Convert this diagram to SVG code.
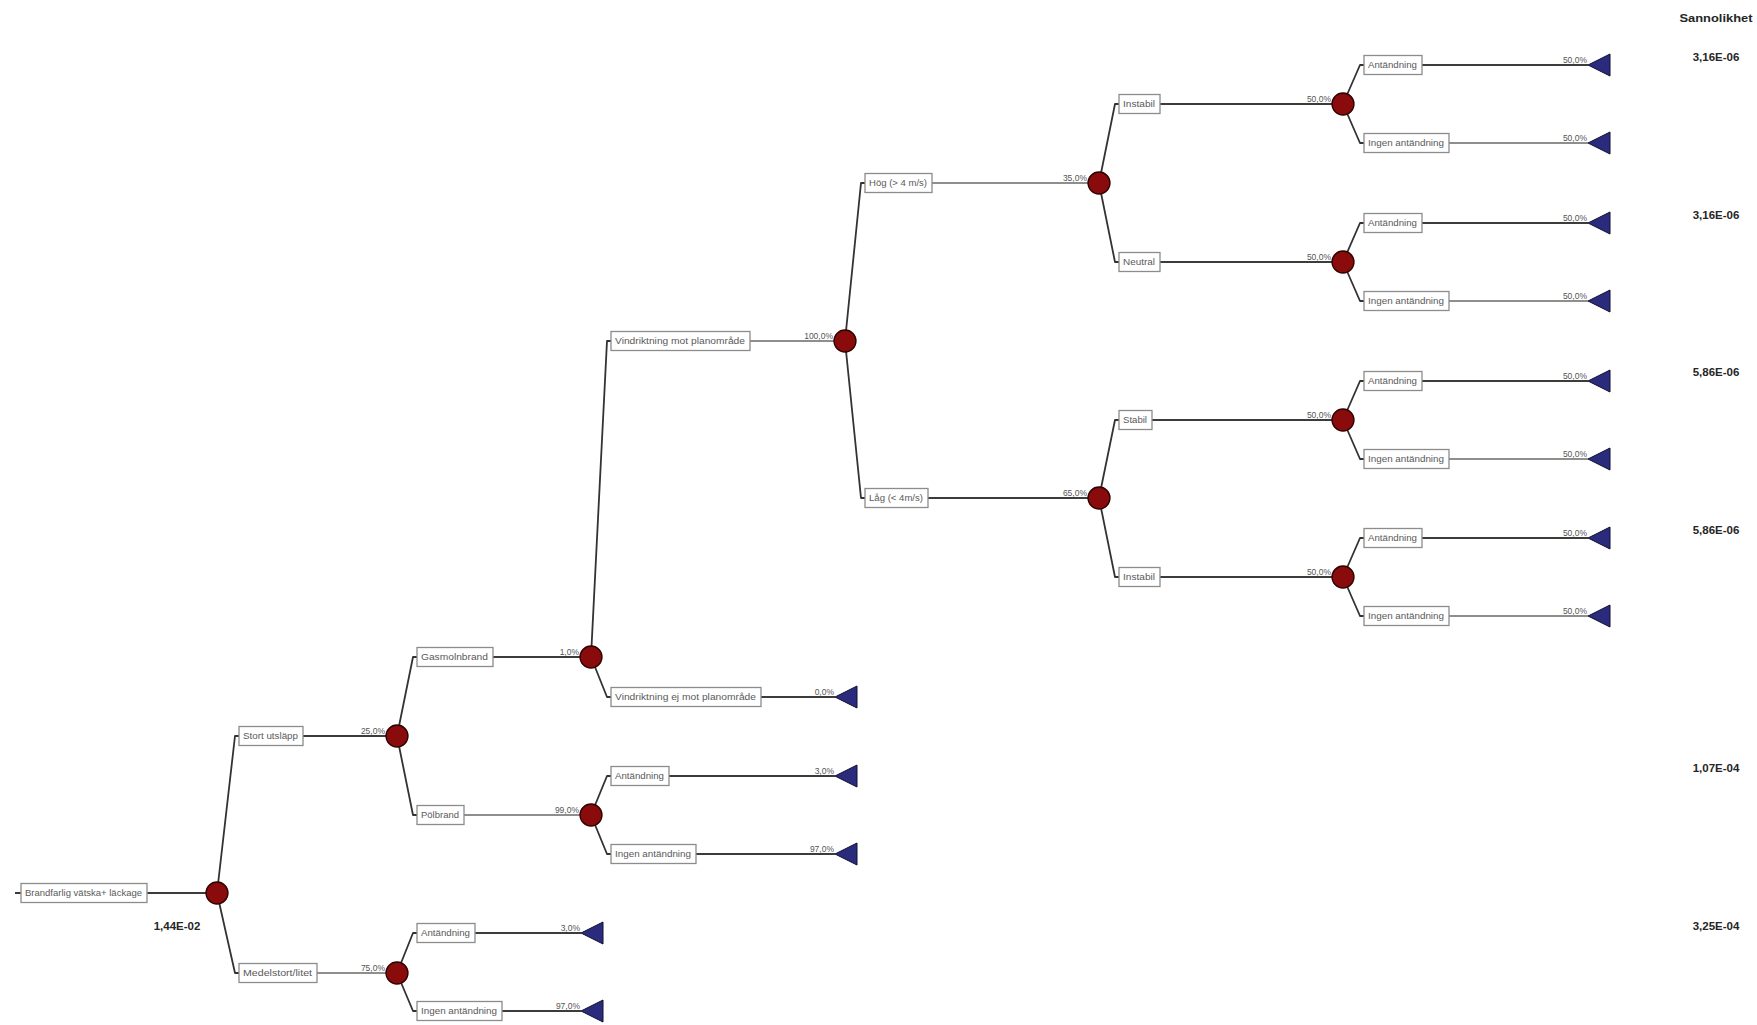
<svg xmlns="http://www.w3.org/2000/svg" xmlns:xlink="http://www.w3.org/1999/xlink" width="1757" height="1025" viewBox="0 0 1757 1025">
<style>
  .bg { fill: #ffffff; }
  .box rect { fill: #ffffff; stroke: #8c8c8c; stroke-width: 1.3; }
  .box text { font-family: "Liberation Sans", Arial, sans-serif; font-size: 9px; fill: #5a5a5a; }
  .diag { fill: none; stroke: #333333; stroke-width: 1.8; stroke-linejoin: round; }
  .hd { fill: none; stroke: #3c3c3c; stroke-width: 2; }
  .hl { fill: none; stroke: #8e8e8e; stroke-width: 2; }
  .pct { font-family: "Liberation Sans", Arial, sans-serif; font-size: 8.5px; fill: #555555; text-anchor: end; }
  .chance { fill: #8a0b0b; stroke: #2e0000; stroke-width: 1.3; }
  .term { fill: #2b2b7e; stroke: #101030; stroke-width: 1; }
  .prob { font-family: "Liberation Sans", Arial, sans-serif; font-size: 11.5px; font-weight: bold; fill: #262626; text-anchor: middle; }
</style>
<defs>
  <polygon id="tri" class="term" points="0,0 22,-11 22,11"/>
</defs>
<rect class="bg" x="0" y="0" width="1757" height="1025"/>

<g id="connectors">
  <!-- root -->
  <path class="hd" d="M15 893 H21"/>
  <path class="hd" d="M147 893 H217"/>
  <path class="diag" d="M217 893 L235 736 H239"/>
  <path class="diag" d="M217 893 L235 973 H239"/>
  <path class="hd" d="M303 736 H397"/>
  <path class="hl" d="M317 973 H397"/>
  <path class="diag" d="M397 736 L413 657 H417"/>
  <path class="diag" d="M397 736 L413 815 H417"/>
  <path class="diag" d="M397 973 L413 933 H417"/>
  <path class="diag" d="M397 973 L413 1011 H417"/>
  <path class="hd" d="M493 657 H591"/>
  <path class="hl" d="M464 815 H591"/>
  <path class="hd" d="M475 933 H581"/>
  <path class="hd" d="M502 1011 H581"/>
  <path class="diag" d="M591 657 L607 341 H611"/>
  <path class="diag" d="M591 657 L607 697 H611"/>
  <path class="diag" d="M591 815 L607 776 H611"/>
  <path class="diag" d="M591 815 L607 854 H611"/>
  <path class="hl" d="M750 341 H845"/>
  <path class="hd" d="M761 697 H835"/>
  <path class="hd" d="M669 776 H835"/>
  <path class="hd" d="M696 854 H835"/>
  <path class="diag" d="M845 341 L861 183 H865"/>
  <path class="diag" d="M845 341 L861 498 H865"/>
  <path class="hl" d="M932 183 H1099"/>
  <path class="hd" d="M928 498 H1099"/>
  <path class="diag" d="M1099 183 L1115 104 H1119"/>
  <path class="diag" d="M1099 183 L1115 262 H1119"/>
  <path class="diag" d="M1099 498 L1115 420 H1119"/>
  <path class="diag" d="M1099 498 L1115 577 H1119"/>
  <path class="hd" d="M1160 104 H1343"/>
  <path class="hd" d="M1160 262 H1343"/>
  <path class="hd" d="M1152 420 H1343"/>
  <path class="hd" d="M1160 577 H1343"/>
  <path class="diag" d="M1343 104 L1360 65 H1364"/>
  <path class="diag" d="M1343 104 L1360 143 H1364"/>
  <path class="diag" d="M1343 262 L1360 223 H1364"/>
  <path class="diag" d="M1343 262 L1360 301 H1364"/>
  <path class="diag" d="M1343 420 L1360 381 H1364"/>
  <path class="diag" d="M1343 420 L1360 459 H1364"/>
  <path class="diag" d="M1343 577 L1360 538 H1364"/>
  <path class="diag" d="M1343 577 L1360 616 H1364"/>
  <path class="hd" d="M1422 65 H1588"/>
  <path class="hl" d="M1449 143 H1588"/>
  <path class="hd" d="M1422 223 H1588"/>
  <path class="hl" d="M1449 301 H1588"/>
  <path class="hd" d="M1422 381 H1588"/>
  <path class="hl" d="M1449 459 H1588"/>
  <path class="hd" d="M1422 538 H1588"/>
  <path class="hl" d="M1449 616 H1588"/>

  <g id="branch-probabilities">
    <text class="pct" x="385" y="734">25,0%</text>
    <text class="pct" x="385" y="971">75,0%</text>
    <text class="pct" x="579" y="655">1,0%</text>
    <text class="pct" x="579" y="813">99,0%</text>
    <text class="pct" x="580" y="931">3,0%</text>
    <text class="pct" x="580" y="1009">97,0%</text>
    <text class="pct" x="833" y="339">100,0%</text>
    <text class="pct" x="834" y="695">0,0%</text>
    <text class="pct" x="834" y="774">3,0%</text>
    <text class="pct" x="834" y="852">97,0%</text>
    <text class="pct" x="1087" y="181">35,0%</text>
    <text class="pct" x="1087" y="496">65,0%</text>
    <text class="pct" x="1331" y="102">50,0%</text>
    <text class="pct" x="1331" y="260">50,0%</text>
    <text class="pct" x="1331" y="418">50,0%</text>
    <text class="pct" x="1331" y="575">50,0%</text>
    <text class="pct" x="1587" y="63">50,0%</text>
    <text class="pct" x="1587" y="141">50,0%</text>
    <text class="pct" x="1587" y="221">50,0%</text>
    <text class="pct" x="1587" y="299">50,0%</text>
    <text class="pct" x="1587" y="379">50,0%</text>
    <text class="pct" x="1587" y="457">50,0%</text>
    <text class="pct" x="1587" y="536">50,0%</text>
    <text class="pct" x="1587" y="614">50,0%</text>
  </g>
</g>

<!-- event boxes -->
<g id="root-event" class="box"><rect x="21" y="883.5" width="126" height="19"/><text x="25" y="896" textLength="117" lengthAdjust="spacingAndGlyphs">Brandfarlig vätska+ läckage</text></g>
<g id="b-stort" class="box"><rect x="239" y="726.5" width="64" height="19"/><text x="243" y="739" textLength="55" lengthAdjust="spacingAndGlyphs">Stort utsläpp</text></g>
<g id="b-medel" class="box"><rect x="239" y="963.5" width="78" height="19"/><text x="243" y="976" textLength="69" lengthAdjust="spacingAndGlyphs">Medelstort/litet</text></g>
<g id="b-gas" class="box"><rect x="417" y="647.5" width="76" height="19"/><text x="421" y="660" textLength="67" lengthAdjust="spacingAndGlyphs">Gasmolnbrand</text></g>
<g id="b-pol" class="box"><rect x="417" y="805.5" width="47" height="19"/><text x="421" y="818" textLength="38" lengthAdjust="spacingAndGlyphs">Pölbrand</text></g>
<g id="b-medel-ant" class="box"><rect x="417" y="923.5" width="58" height="19"/><text x="421" y="936" textLength="49" lengthAdjust="spacingAndGlyphs">Antändning</text></g>
<g id="b-medel-ingen" class="box"><rect x="417" y="1001.5" width="85" height="19"/><text x="421" y="1014" textLength="76" lengthAdjust="spacingAndGlyphs">Ingen antändning</text></g>
<g id="b-vmot" class="box"><rect x="611" y="331.5" width="139" height="19"/><text x="615" y="344" textLength="130" lengthAdjust="spacingAndGlyphs">Vindriktning mot planområde</text></g>
<g id="b-vej" class="box"><rect x="611" y="687.5" width="150" height="19"/><text x="615" y="700" textLength="141" lengthAdjust="spacingAndGlyphs">Vindriktning ej mot planområde</text></g>
<g id="b-pol-ant" class="box"><rect x="611" y="766.5" width="58" height="19"/><text x="615" y="779" textLength="49" lengthAdjust="spacingAndGlyphs">Antändning</text></g>
<g id="b-pol-ingen" class="box"><rect x="611" y="844.5" width="85" height="19"/><text x="615" y="857" textLength="76" lengthAdjust="spacingAndGlyphs">Ingen antändning</text></g>
<g id="b-hog" class="box"><rect x="865" y="173.5" width="67" height="19"/><text x="869" y="186" textLength="58" lengthAdjust="spacingAndGlyphs">Hög (&gt; 4 m/s)</text></g>
<g id="b-lag" class="box"><rect x="865" y="488.5" width="63" height="19"/><text x="869" y="501" textLength="54" lengthAdjust="spacingAndGlyphs">Låg (&lt; 4m/s)</text></g>
<g id="b-instabil-1" class="box"><rect x="1119" y="94.5" width="41" height="19"/><text x="1123" y="107" textLength="32" lengthAdjust="spacingAndGlyphs">Instabil</text></g>
<g id="b-neutral" class="box"><rect x="1119" y="252.5" width="41" height="19"/><text x="1123" y="265" textLength="32" lengthAdjust="spacingAndGlyphs">Neutral</text></g>
<g id="b-stabil" class="box"><rect x="1119" y="410.5" width="33" height="19"/><text x="1123" y="423" textLength="24" lengthAdjust="spacingAndGlyphs">Stabil</text></g>
<g id="b-instabil-2" class="box"><rect x="1119" y="567.5" width="41" height="19"/><text x="1123" y="580" textLength="32" lengthAdjust="spacingAndGlyphs">Instabil</text></g>
<g id="b-leaf-1a" class="box"><rect x="1364" y="55.5" width="58" height="19"/><text x="1368" y="68" textLength="49" lengthAdjust="spacingAndGlyphs">Antändning</text></g>
<g id="b-leaf-1i" class="box"><rect x="1364" y="133.5" width="85" height="19"/><text x="1368" y="146" textLength="76" lengthAdjust="spacingAndGlyphs">Ingen antändning</text></g>
<g id="b-leaf-2a" class="box"><rect x="1364" y="213.5" width="58" height="19"/><text x="1368" y="226" textLength="49" lengthAdjust="spacingAndGlyphs">Antändning</text></g>
<g id="b-leaf-2i" class="box"><rect x="1364" y="291.5" width="85" height="19"/><text x="1368" y="304" textLength="76" lengthAdjust="spacingAndGlyphs">Ingen antändning</text></g>
<g id="b-leaf-3a" class="box"><rect x="1364" y="371.5" width="58" height="19"/><text x="1368" y="384" textLength="49" lengthAdjust="spacingAndGlyphs">Antändning</text></g>
<g id="b-leaf-3i" class="box"><rect x="1364" y="449.5" width="85" height="19"/><text x="1368" y="462" textLength="76" lengthAdjust="spacingAndGlyphs">Ingen antändning</text></g>
<g id="b-leaf-4a" class="box"><rect x="1364" y="528.5" width="58" height="19"/><text x="1368" y="541" textLength="49" lengthAdjust="spacingAndGlyphs">Antändning</text></g>
<g id="b-leaf-4i" class="box"><rect x="1364" y="606.5" width="85" height="19"/><text x="1368" y="619" textLength="76" lengthAdjust="spacingAndGlyphs">Ingen antändning</text></g>

<!-- chance nodes -->
<g id="n1"><circle class="chance" cx="217" cy="893" r="11"/></g>
<g id="n2"><circle class="chance" cx="397" cy="736" r="11"/></g>
<g id="n3"><circle class="chance" cx="397" cy="973" r="11"/></g>
<g id="n4"><circle class="chance" cx="591" cy="657" r="11"/></g>
<g id="n5"><circle class="chance" cx="591" cy="815" r="11"/></g>
<g id="n6"><circle class="chance" cx="845" cy="341" r="11"/></g>
<g id="n7"><circle class="chance" cx="1099" cy="183" r="11"/></g>
<g id="n8"><circle class="chance" cx="1099" cy="498" r="11"/></g>
<g id="n9"><circle class="chance" cx="1343" cy="104" r="11"/></g>
<g id="n10"><circle class="chance" cx="1343" cy="262" r="11"/></g>
<g id="n11"><circle class="chance" cx="1343" cy="420" r="11"/></g>
<g id="n12"><circle class="chance" cx="1343" cy="577" r="11"/></g>

<!-- terminal nodes -->
<g id="t-medel-ant"><use xlink:href="#tri" x="581" y="933"/></g>
<g id="t-medel-ingen"><use xlink:href="#tri" x="581" y="1011"/></g>
<g id="t-vej"><use xlink:href="#tri" x="835" y="697"/></g>
<g id="t-pol-ant"><use xlink:href="#tri" x="835" y="776"/></g>
<g id="t-pol-ingen"><use xlink:href="#tri" x="835" y="854"/></g>
<g id="t-leaf-1a"><use xlink:href="#tri" x="1588" y="65"/></g>
<g id="t-leaf-1i"><use xlink:href="#tri" x="1588" y="143"/></g>
<g id="t-leaf-2a"><use xlink:href="#tri" x="1588" y="223"/></g>
<g id="t-leaf-2i"><use xlink:href="#tri" x="1588" y="301"/></g>
<g id="t-leaf-3a"><use xlink:href="#tri" x="1588" y="381"/></g>
<g id="t-leaf-3i"><use xlink:href="#tri" x="1588" y="459"/></g>
<g id="t-leaf-4a"><use xlink:href="#tri" x="1588" y="538"/></g>
<g id="t-leaf-4i"><use xlink:href="#tri" x="1588" y="616"/></g>

<!-- probabilities -->
<g id="probabilities">
  <text class="prob" x="177" y="930">1,44E-02</text>
  <text class="prob" x="1716" y="22" textLength="73" lengthAdjust="spacingAndGlyphs">Sannolikhet</text>
  <text class="prob" x="1716" y="61">3,16E-06</text>
  <text class="prob" x="1716" y="219">3,16E-06</text>
  <text class="prob" x="1716" y="376">5,86E-06</text>
  <text class="prob" x="1716" y="534">5,86E-06</text>
  <text class="prob" x="1716" y="772">1,07E-04</text>
  <text class="prob" x="1716" y="930">3,25E-04</text>
</g>
</svg>
